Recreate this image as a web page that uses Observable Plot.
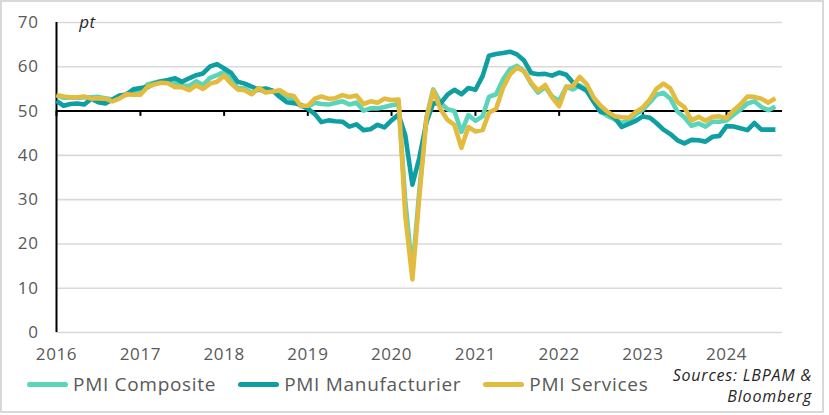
<!DOCTYPE html>
<html><head><meta charset="utf-8">
<script src="https://cdn.jsdelivr.net/npm/d3@7"></script>
<script src="https://cdn.jsdelivr.net/npm/@observablehq/plot@0.6"></script>
<style>
body{margin:0;background:#fff;font-family:"Open Sans",sans-serif;}
#wrap{position:relative;width:829px;height:415px;overflow:hidden;background:#fff;}
#chart{position:absolute;left:0;top:0;}
#frame{position:absolute;left:0;top:0;width:820px;height:409px;border:2px solid #d9d9d9;pointer-events:none;}
#legend{position:absolute;left:27px;top:371px;display:flex;align-items:center;font-size:19px;letter-spacing:0.7px;color:#595959;white-space:nowrap;}
#legend .item{display:flex;align-items:center;margin-right:22px;}
#legend .sw{width:41px;height:5px;border-radius:3px;margin-right:5px;}
#sources{position:absolute;right:17px;top:365px;text-align:right;font-style:italic;font-size:16px;letter-spacing:0.8px;line-height:21px;color:#262626;}
</style>
</head><body>
<div id="wrap"><div id="chart"></div><div id="legend"></div><div id="sources">Sources: LBPAM &amp;<br>Bloomberg</div><div id="frame"></div></div>
<script>
const startMonth = "2016-01-01";
const yearTicks = [2016, 2017, 2018, 2019, 2020, 2021, 2022, 2023, 2024];
const yTicks = [0, 10, 20, 30, 40, 50, 60, 70];
const seriesNames = ["PMI Composite", "PMI Manufacturier", "PMI Services"];
const seriesColors = ["#5ad4bb", "#0f9ea2", "#e3bb3e"];

const composite = [
  53.6, 53.0, 53.1, 53.0, 53.1, 53.1, 53.2, 52.9, 52.6, 53.3, 53.9, 54.4,
  54.4, 56.0, 56.4, 56.8, 56.8, 56.3, 55.7, 55.7, 56.7, 55.9, 57.5, 58.1,
  58.8, 57.1, 55.2, 55.1, 54.1, 54.9, 54.3, 54.5, 54.1, 53.1, 52.7, 51.1,
  51.0, 51.9, 51.6, 51.5, 51.8, 52.2, 51.5, 51.9, 50.1, 50.6, 50.6, 50.9,
  51.3, 51.6, 29.7, 13.6, 31.9, 48.5, 54.9, 51.9, 50.4, 50.0, 45.3, 49.1,
  47.8, 48.8, 53.2, 53.8, 57.1, 59.5, 60.2, 59.0, 56.2, 54.2, 55.4, 53.3,
  52.3, 55.5, 54.9, 55.8, 54.8, 52.0, 49.9, 48.9, 48.1, 47.3, 47.8, 49.3,
  50.3, 52.0, 53.7, 54.1, 52.8, 49.9, 48.6, 46.7, 47.2, 46.5, 47.6, 47.6,
  47.9, 49.2, 50.3, 51.7, 52.2, 50.9, 50.2, 51.0
];
const manufacturing = [
  52.3, 51.2, 51.6, 51.7, 51.5, 52.8, 52.0, 51.7, 52.6, 53.5, 53.7, 54.9,
  55.2, 55.4, 56.2, 56.7, 57.0, 57.4, 56.6, 57.4, 58.1, 58.5, 60.1, 60.6,
  59.6, 58.6, 56.6, 56.2, 55.5, 54.9, 55.1, 54.6, 53.2, 52.0, 51.8, 51.4,
  50.5, 49.3, 47.5, 47.9, 47.7, 47.6, 46.5, 47.0, 45.7, 45.9, 46.9, 46.3,
  47.9, 49.2, 44.5, 33.4, 39.4, 47.4, 51.8, 51.7, 53.7, 54.8, 53.8, 55.2,
  54.8, 57.9, 62.5, 62.9, 63.1, 63.4, 62.8, 61.4, 58.6, 58.3, 58.4, 58.0,
  58.7, 58.2, 56.5, 55.5, 54.6, 52.1, 49.8, 49.6, 48.4, 46.4, 47.1, 47.8,
  48.8, 48.5, 47.3, 45.8, 44.8, 43.4, 42.7, 43.5, 43.4, 43.1, 44.2, 44.4,
  46.6, 46.5, 46.1, 45.7, 47.3, 45.8, 45.8, 45.8
];
const services = [
  53.6, 53.3, 53.1, 53.1, 53.3, 52.8, 52.9, 52.8, 52.2, 52.8, 53.8, 53.7,
  53.7, 55.5, 56.0, 56.4, 56.3, 55.4, 55.4, 54.7, 55.8, 55.0, 56.2, 56.6,
  58.0, 56.2, 54.9, 54.7, 53.8, 55.2, 54.2, 54.4, 54.7, 53.7, 53.4, 51.2,
  51.2, 52.8, 53.3, 52.8, 52.9, 53.6, 53.2, 53.5, 51.6, 52.2, 51.9, 52.8,
  52.5, 52.6, 26.4, 12.0, 30.5, 48.3, 54.7, 50.5, 48.0, 46.9, 41.7, 46.4,
  45.4, 45.7, 49.6, 50.5, 55.2, 58.3, 59.8, 59.0, 56.4, 54.6, 55.9, 53.1,
  51.1, 55.5, 55.6, 57.7, 56.1, 53.0, 51.2, 49.8, 48.8, 48.6, 48.5, 49.8,
  50.8, 52.7, 55.0, 56.2, 55.1, 52.0, 50.9, 47.9, 48.7, 47.8, 48.7, 48.8,
  48.4, 50.2, 51.5, 53.3, 53.2, 52.8, 51.9, 52.9
];

const start = new Date(startMonth);
const months = d3.utcMonth.range(start, d3.utcMonth.offset(start, composite.length));
const rows = [];
[composite, manufacturing, services].forEach((arr, s) => {
  arr.forEach((v, i) => rows.push({date: months[i], value: v, series: seriesNames[s]}));
});
const yearDates = yearTicks.map(y => new Date(Date.UTC(y, 0, 1)));
const xEnd = d3.utcMonth.offset(months[months.length - 1], 1);

const font = '"Open Sans", sans-serif';
const chart = Plot.plot({
  width: 829,
  height: 364,
  marginLeft: 56,
  marginRight: 47,
  marginTop: 22,
  marginBottom: 32,
  style: {fontFamily: font, fontSize: "17px", letterSpacing: "0.6px", color: "#595959", background: "transparent"},
  x: {type: "utc", domain: [start, xEnd]},
  y: {domain: [0, 70]},
  color: {domain: seriesNames, range: seriesColors},
  marks: [
    Plot.ruleY(yTicks.filter(d => d !== 50), {stroke: "#d9d9d9", strokeWidth: 1.6}),
    Plot.axisY({ticks: yTicks, tickSize: 0, tickPadding: 18, fontSize: 17, fill: "#595959", label: null}),
    Plot.axisX({ticks: yearDates, tickFormat: d3.utcFormat("%Y"), tickSize: 0, tickPadding: 15, fontSize: 17, fill: "#595959", label: null}),
    Plot.ruleY([50], {stroke: "#000", strokeWidth: 2}),
    Plot.ruleX(yearDates, {y1: 50, y2: 48.8, stroke: "#000", strokeWidth: 2}),
    Plot.ruleX([start], {stroke: "#000", strokeWidth: 2}),
    Plot.line(rows, {x: "date", y: "value", z: "series", stroke: "series", strokeWidth: 4.6, strokeLinejoin: "round", strokeLinecap: "butt"}),
    Plot.text(["pt"], {frameAnchor: "top-left", dx: 31, lineAnchor: "middle", fontStyle: "italic", fontSize: 17, fill: "#262626", textAnchor: "middle"})
  ]
});
document.getElementById("chart").appendChild(chart);

const legend = document.getElementById("legend");
seriesNames.forEach((n, i) => {
  const it = document.createElement("div");
  it.className = "item";
  const sw = document.createElement("span");
  sw.className = "sw";
  sw.style.background = seriesColors[i];
  const tx = document.createElement("span");
  tx.textContent = n;
  it.appendChild(sw); it.appendChild(tx);
  legend.appendChild(it);
});
</script>
</body></html>
